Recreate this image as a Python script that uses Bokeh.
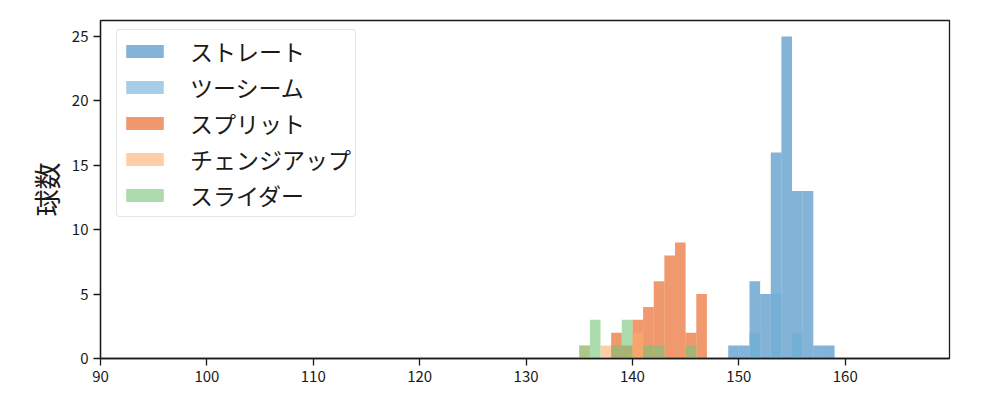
from bokeh.plotting import figure
from bokeh.models import Legend, LegendItem
from bokeh.embed import file_html
from bokeh.resources import INLINE

# pitch speed histogram (km/h), 1 km/h bins, lower bin edges + counts
pitch_names = ["ストレート", "ツーシーム", "スプリット", "チェンジアップ", "スライダー"]
pitch_colors = ["#3182bd", "#6baed6", "#e6550d", "#fdae6b", "#74c476"]

fastball_bins = [149, 150, 151, 152, 153, 154, 155, 156, 157, 158]
fastball_counts = [1, 1, 6, 5, 16, 25, 13, 13, 1, 1]

twoseam_bins = [151, 153, 155]
twoseam_counts = [2, 5, 2]

split_bins = [138, 139, 140, 141, 142, 143, 144, 145, 146]
split_counts = [2, 1, 3, 4, 6, 8, 9, 2, 5]

change_bins = [135, 137, 140]
change_counts = [1, 1, 2]

slider_bins = [135, 136, 138, 139, 141, 142, 145]
slider_counts = [1, 3, 1, 3, 1, 1, 1]

BIN_WIDTH = 1

xticks = [90, 100, 110, 120, 130, 140, 150, 160]
yticks = [0, 5, 10, 15, 20, 25]

FONT = "Noto Sans CJK JP"
INK = "#1a1a1a"

if __name__ == "__main__":
    p = figure(width=984, height=384, x_range=(90, 169.8), y_range=(0, 26.25),
               output_backend="svg", toolbar_location=None,
               min_border_left=100, min_border_right=35,
               min_border_top=20, min_border_bottom=24)

    series = [
        (fastball_bins, fastball_counts),
        (twoseam_bins, twoseam_counts),
        (split_bins, split_counts),
        (change_bins, change_counts),
        (slider_bins, slider_counts),
    ]

    items = []
    for name, color, (bins, counts) in zip(pitch_names, pitch_colors, series):
        r = p.quad(left=bins, right=[b + BIN_WIDTH for b in bins], bottom=0, top=counts,
                   fill_color=color, fill_alpha=0.6, line_color=None)
        items.append(LegendItem(label=name, renderers=[r]))

    # location is (x, y) of the legend's lower-left corner from the frame's lower-left
    legend = Legend(items=items, location=(16, 141), margin=0, padding=4,
                    glyph_width=47, glyph_height=16, label_height=24, spacing=2,
                    label_standoff=22, label_text_font=FONT, label_text_font_size="23px",
                    label_text_color=INK,
                    border_line_color="#cccccc", border_line_width=1,
                    border_radius=4, background_fill_alpha=0.8)
    p.add_layout(legend)

    p.xgrid.visible = False
    p.ygrid.visible = False
    p.outline_line_color = INK
    p.outline_line_width = 1.3

    for ax in (p.xaxis[0], p.yaxis[0]):
        ax.axis_line_color = INK
        ax.axis_line_width = 1.3
        ax.major_tick_line_color = INK
        ax.major_tick_line_width = 1.3
        ax.major_tick_out = 7
        ax.major_tick_in = 0
        ax.minor_tick_line_color = None
        ax.major_label_text_font = FONT
        ax.major_label_text_font_size = "15px"
        ax.major_label_text_color = INK
        ax.major_label_standoff = 5

    p.xaxis.ticker = xticks
    p.yaxis.ticker = yticks
    p.yaxis.axis_label = "球数"
    p.yaxis.axis_label_text_font = FONT
    p.yaxis.axis_label_text_font_size = "27px"
    p.yaxis.axis_label_text_font_style = "normal"
    p.yaxis.axis_label_text_color = INK
    p.yaxis.axis_label_standoff = 3

    open("out.html", "w").write(file_html(p, INLINE))
